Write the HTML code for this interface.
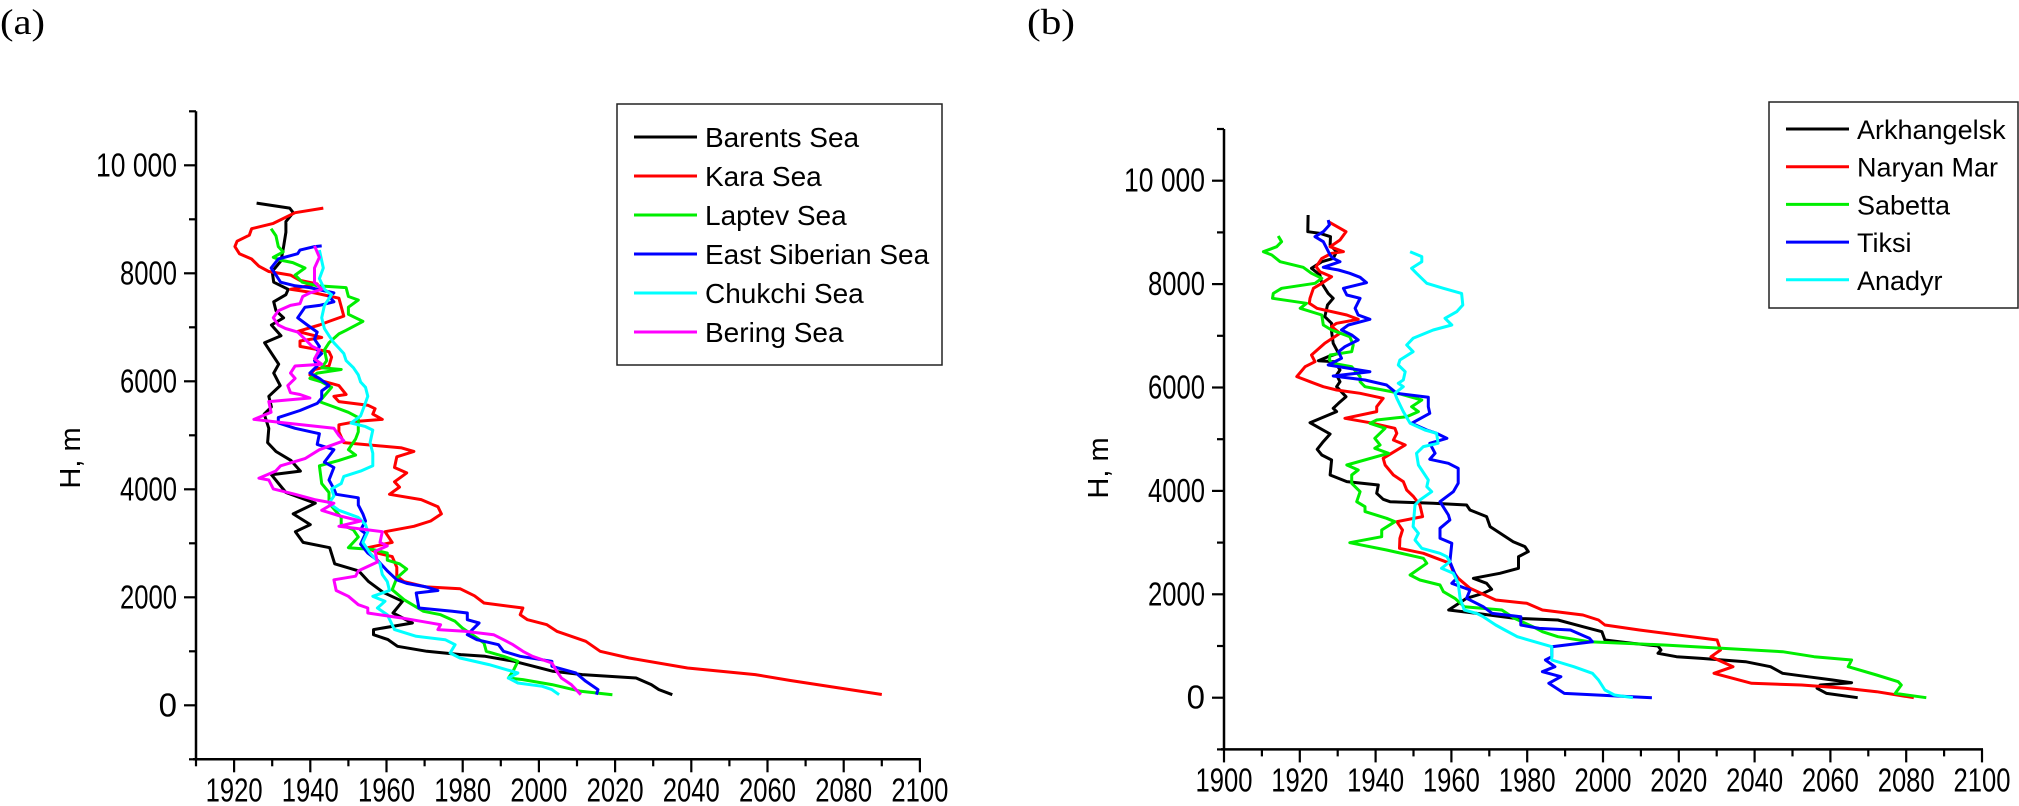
<!DOCTYPE html>
<html><head><meta charset="utf-8">
<style>
html,body{margin:0;padding:0;background:#fff;}
svg{display:block;}
text{font-family:"Liberation Sans",Arial,sans-serif;fill:#000;}
</style></head>
<body>
<svg id="fig" width="2019" height="806" viewBox="0 0 2019 806" xmlns="http://www.w3.org/2000/svg">
<text x="0" y="34" font-size="36" textLength="45" lengthAdjust="spacingAndGlyphs" style="font-family:'Liberation Serif',serif">(a)</text>
<text x="1027" y="34" font-size="36" textLength="48" lengthAdjust="spacingAndGlyphs" style="font-family:'Liberation Serif',serif">(b)</text>
<g id="chartA"></g>
<g id="chartB"></g>
</svg>
<script>
// ---------- Chart (a) data ----------
const seriesNamesA = ["Barents Sea","Kara Sea","Laptev Sea","East Siberian Sea","Chukchi Sea","Bering Sea"];
const seriesColorsA = ["#000000","#ff0000","#00ee00","#0000ff","#00ffff","#ff00ff"];
const barentsYears = [1925.9,1934.6,1935.5,1933.6,1933.6,1933.0,1932.3,1930.0,1930.4,1934.2,1933.6,1930.4,1931.0,1933.0,1929.8,1932.3,1928.0,1931.7,1930.4,1932.1,1929.1,1929.8,1927.9,1929.1,1928.8,1931.0,1934.9,1937.4,1929.8,1933.6,1941.3,1935.5,1940.0,1936.1,1938.1,1945.1,1946.4,1952.7,1955.3,1959.1,1964.2,1961.7,1966.8,1956.6,1956.6,1960.4,1962.9,1970.6,1979.5,1985.9,1993.5,1998.6,2003.7,2011.4,2025.5,2029.5,2031.5,2035.0];
const barentsH = [9300,9208,9122,8957,8759,8495,8231,8033,7835,7703,7604,7472,7307,7175,7043,6845,6713,6317,6152,5921,5723,5525,5393,5129,4865,4700,4535,4337,4271,3941,3743,3545,3347,3215,3017,2918,2621,2489,2291,2093,1925,1709,1524,1401,1308,1216,1092,1000,938,907,814,722,629,568,506,383,290,197];
const karaYears = [1943.4,1936.0,1930.3,1924.6,1924.0,1920.8,1920.2,1921.4,1924.6,1926.5,1929.1,1934.8,1937.3,1941.8,1934.8,1941.1,1947.5,1948.8,1944.9,1942.4,1936.7,1943.0,1937.3,1937.3,1944.9,1945.6,1944.9,1941.1,1939.9,1942.4,1947.5,1949.4,1946.2,1947.5,1955.1,1957.0,1956.4,1958.9,1952.6,1947.5,1947.5,1948.8,1964.0,1967.2,1962.7,1962.1,1965.3,1962.1,1963.4,1960.8,1969.1,1973.5,1974.4,1971.6,1967.2,1959.6,1961.5,1955.1,1957.6,1961.5,1962.7,1962.7,1964.6,1970.4,1979.3,1983.1,1985.6,1995.8,1995.1,1997.0,2002.1,2004.7,2012.3,2016.1,2023.7,2039.0,2056.8,2066,2078,2090];
const karaH = [9208,9122,8924,8825,8706,8594,8495,8363,8264,8132,8033,7967,7868,7802,7703,7637,7538,7208,7109,7043,6924,6812,6746,6647,6548,6449,6284,6218,6119,6020,5921,5756,5723,5624,5558,5492,5393,5294,5261,5195,5063,4865,4766,4700,4601,4403,4304,4139,4040,3908,3809,3677,3545,3413,3314,3215,3017,2918,2819,2753,2555,2390,2291,2192,2159,2027,1894,1802,1678,1586,1493,1370,1185,1000,876,691,568,460,330,200];
const laptevYears = [1929.7,1931.0,1931.6,1932.9,1930.3,1932.2,1935.4,1938.6,1936.0,1937.9,1941.8,1949.4,1950.0,1952.6,1950.0,1950.0,1953.8,1949.4,1947.5,1944.9,1943.7,1944.3,1943.0,1948.1,1941.8,1939.9,1943.0,1945.6,1942.4,1946.2,1950.0,1952.6,1952.6,1951.9,1950.0,1951.9,1947.5,1942.4,1943.0,1944.9,1944.9,1948.1,1948.1,1951.3,1952.6,1950.0,1956.4,1960.2,1960.2,1963.4,1965.3,1962.7,1961.5,1964.6,1969.7,1974.2,1978.0,1979.9,1983.1,1985.6,1986.2,1990.7,1994.5,1993.2,1992.0,1995.8,2003.4,2011.0,2019.3];
const laptevH = [8825,8693,8495,8396,8297,8244,8198,8099,7967,7835,7769,7736,7571,7505,7373,7241,7109,6944,6878,6713,6581,6383,6251,6218,6152,6053,5987,5888,5624,5525,5426,5327,5063,4931,4733,4634,4535,4436,4106,3941,3743,3479,3347,3248,3116,2918,2885,2819,2687,2621,2522,2357,2141,1956,1740,1678,1555,1431,1277,1154,1000,907,814,629,506,475,383,259,197];
const eastSibYears = [1943.0,1941.1,1937.3,1936.7,1931.6,1929.7,1931.0,1932.2,1936.0,1939.9,1946.2,1944.9,1946.2,1942.4,1938.6,1936.7,1939.2,1941.8,1941.1,1942.4,1941.8,1943.0,1941.1,1941.8,1939.9,1942.4,1944.9,1943.0,1943.0,1941.8,1937.3,1931.6,1931.6,1936.0,1942.4,1941.8,1946.2,1943.7,1946.2,1944.9,1946.2,1946.8,1952.6,1952.6,1953.8,1954.5,1953.2,1954.5,1953.2,1955.1,1957.6,1960.2,1962.7,1965.3,1970.4,1973.5,1967.8,1968.5,1977.3,1981.2,1981.2,1984.3,1981.2,1983.7,1989.4,1990.7,1995.1,2003.4,2003.4,2009.7,2012.3,2015.5,2015.1];
const eastSibH = [8508,8495,8429,8363,8264,8099,7967,7835,7769,7736,7637,7571,7472,7406,7373,7175,7043,6911,6779,6647,6581,6515,6383,6284,6152,6053,5921,5822,5690,5591,5459,5327,5228,5129,5030,4832,4733,4502,4403,4172,4007,3908,3842,3710,3545,3413,3248,3182,2984,2819,2687,2489,2324,2258,2192,2126,2079,1802,1740,1709,1586,1524,1308,1215,1123,1000,907,814,722,598,444,290,197];
const chukchiYears = [1942.4,1943.4,1942.4,1943.7,1945.6,1943.7,1943.0,1943.7,1944.9,1946.2,1947.5,1948.8,1949.4,1951.3,1952.6,1953.2,1954.5,1955.1,1954.1,1953.2,1950.7,1954.5,1956.4,1955.7,1956.4,1956.4,1953.2,1948.8,1948.1,1945.6,1946.2,1944.9,1947.5,1952.6,1954.5,1955.1,1953.8,1955.7,1958.3,1958.9,1960.2,1960.8,1956.4,1959.6,1957.6,1960.2,1962.1,1967.8,1975.4,1978.0,1976.7,1979.3,1986.9,1994.5,1992.0,1994.5,2000.9,2003.4,2005.3];
const chukchiH = [8429,8099,7901,7703,7604,7406,7175,6977,6845,6713,6614,6515,6383,6251,6119,5987,5888,5723,5525,5360,5228,5162,5096,4865,4667,4436,4337,4238,4106,4007,3875,3743,3611,3479,3347,3215,3017,2819,2621,2423,2291,2126,2018,1925,1802,1678,1401,1277,1215,1123,969,876,753,598,506,413,352,290,197];
const beringYears = [1941.1,1942.4,1941.1,1941.1,1943.0,1939.9,1938.0,1937.3,1934.8,1931.6,1930.3,1931.6,1933.5,1936.7,1938.6,1940.5,1942.4,1941.1,1943.0,1936.0,1934.8,1936.0,1934.1,1934.8,1937.3,1939.9,1929.1,1929.7,1925.2,1933.5,1946.2,1947.5,1948.8,1944.9,1942.4,1938.6,1932.2,1930.9,1926.5,1929.1,1930.3,1936.0,1941.1,1946.2,1943.0,1947.5,1953.2,1947.5,1958.9,1958.3,1960.2,1957.0,1957.6,1952.6,1951.9,1946.2,1946.8,1950.0,1952.6,1955.1,1955.1,1964.0,1969.1,1974.2,1973.5,1980.5,1988.1,1990.7,1993.2,1995.8,1998.3,2003.4,2004.7,2005.9,2008.5,2011.0];
const beringH = [8508,8297,8099,7835,7703,7637,7571,7439,7406,7307,7175,7043,6977,6911,6779,6647,6581,6416,6317,6284,6152,6053,5921,5789,5756,5690,5624,5426,5294,5228,5129,4997,4898,4799,4733,4568,4436,4337,4205,4172,4007,3908,3809,3743,3611,3512,3413,3314,3215,3017,2951,2852,2654,2489,2390,2324,2126,2018,1863,1802,1709,1617,1555,1493,1401,1370,1308,1215,1123,1000,907,784,629,506,383,197];
const xTicksA = [1920,1940,1960,1980,2000,2020,2040,2060,2080,2100];
const yTicksA = [0,2000,4000,6000,8000,10000];
const yTickLabelsA = ["0","2000","4000","6000","8000","10 000"];

// ---------- Chart (b) data ----------
const seriesNamesB = ["Arkhangelsk","Naryan Mar","Sabetta","Tiksi","Anadyr"];
const seriesColorsB = ["#000000","#ff0000","#00ee00","#0000ff","#00ffff"];
const arkhYears = [1922.2,1922.1,1925.3,1928.1,1928.0,1929.7,1928.8,1925.8,1923.1,1925.3,1925.8,1927.5,1928.8,1927.3,1926.6,1928.4,1928.4,1928.8,1930.2,1927.5,1924.9,1929.3,1930.6,1929.7,1930.6,1929.7,1932.2,1930.2,1928.8,1929.7,1922.7,1928.0,1926.2,1924.6,1925.8,1928.4,1928.0,1932.4,1940.7,1940.3,1942.0,1943.8,1955.2,1964.0,1964.9,1969.3,1970.2,1976.3,1979.4,1980.3,1977.7,1977.7,1972.8,1965.8,1969.3,1970.6,1968.4,1964.0,1959.3,1966.7,1976.6,1988.1,1994.7,1999.7,2000.5,2007.9,2014.5,2015.3,2014.5,2019.4,2026.0,2037.6,2044.2,2047.4,2054.0,2060.6,2065.6,2057.3,2056.5,2059.0,2067.2];
const arkhH = [9336,9014,8982,8917,8756,8627,8498,8434,8305,8176,8015,7821,7725,7596,7370,7241,7080,6854,6661,6597,6519,6500,6339,6242,6113,6016,5823,5694,5597,5533,5320,5101,4953,4804,4695,4598,4308,4179,4114,3953,3837,3792,3760,3728,3631,3502,3309,3018,2922,2825,2728,2503,2406,2309,2213,2097,2019,1923,1696,1631,1535,1502,1374,1277,1116,1051,1000,922,858,793,761,697,600,471,407,342,291,245,181,84,0];
const naryanYears = [1927.5,1932.2,1930.6,1928.0,1931.5,1928.4,1925.8,1924.3,1925.3,1928.4,1925.8,1923.6,1922.7,1922.5,1924.5,1932.4,1935.4,1929.7,1928.4,1930.6,1926.6,1923.1,1924.0,1921.4,1919.2,1922.7,1926.2,1929.7,1935.9,1942.0,1940.3,1940.3,1931.9,1938.5,1945.1,1945.6,1944.7,1947.8,1944.2,1942.0,1942.5,1944.7,1947.3,1948.2,1950.0,1951.7,1952.4,1945.6,1947.1,1946.4,1946.3,1952.6,1956.1,1959.6,1960.5,1961.8,1964.9,1971.7,1979.9,1984.0,1994.7,1998.8,2000.5,2009.6,2030.1,2031.0,2028.5,2034.3,2029.3,2039.2,2052.4,2063.9,2072.2,2082.0];
const naryanH = [9208,9014,8853,8724,8627,8595,8498,8337,8240,8144,8015,7918,7725,7628,7531,7402,7319,7241,7177,7048,6854,6629,6500,6403,6210,6113,6016,5952,5887,5791,5629,5533,5404,5320,5210,5114,4985,4888,4727,4630,4501,4308,4179,4018,3889,3728,3502,3405,3244,3083,2889,2793,2696,2599,2438,2309,2116,1889,1825,1696,1599,1502,1406,1309,1116,922,793,600,471,278,245,181,116,0];
const sabettaYears = [1914.3,1915.2,1913.9,1910.4,1912.6,1914.8,1920.9,1923.1,1925.8,1924.0,1915.2,1913.0,1912.8,1921.8,1920.1,1925.8,1926.2,1928.4,1933.2,1934.1,1933.7,1928.0,1927.8,1928.8,1933.7,1935.9,1935.9,1937.2,1944.2,1952.2,1949.5,1951.3,1948.2,1940.3,1938.5,1942.5,1939.8,1941.2,1939.8,1943.4,1932.4,1935.4,1933.7,1933.7,1935.9,1935.0,1937.2,1937.2,1942.9,1945.1,1941.6,1941.6,1933.2,1942.9,1952.6,1953.5,1949.1,1951.7,1957.0,1957.9,1960.9,1963.4,1973.3,1976.6,1981.5,1984.0,1988.1,1996.4,2016.1,2047.4,2055.7,2065.6,2064.7,2072.2,2077.9,2078.7,2077.1,2085.3];
const sabettaH = [8930,8821,8724,8627,8563,8434,8324,8208,8112,8015,7918,7821,7725,7628,7531,7402,7209,7112,6983,6822,6693,6629,6532,6468,6403,6210,6113,6016,5920,5758,5629,5533,5436,5372,5307,5210,5017,4888,4824,4727,4501,4405,4308,4147,3985,3792,3695,3599,3470,3405,3244,3115,2999,2857,2696,2599,2374,2277,2180,2051,1923,1760,1696,1535,1374,1277,1180,1083,1019,890,793,729,600,439,310,245,84,0];
const tiksiYears = [1927.5,1927.8,1926.2,1924.0,1926.2,1927.1,1928.0,1928.8,1930.6,1926.2,1930.2,1933.2,1935.9,1937.6,1931.5,1932.4,1935.9,1934.6,1935.4,1938.5,1932.8,1931.0,1933.7,1935.4,1931.9,1930.2,1931.0,1927.5,1938.5,1928.8,1937.2,1942.9,1945.6,1953.9,1953.9,1954.3,1949.5,1953.5,1956.1,1958.8,1954.3,1955.7,1954.3,1959.2,1961.8,1961.8,1960.5,1957.0,1959.2,1959.6,1957.0,1957.0,1960.1,1959.6,1960.5,1961.4,1960.1,1964.9,1964.0,1968.4,1970.8,1978.3,1978.3,1983.2,1991.4,1996.4,1997.2,1986.5,1986.5,1984.8,1987.3,1984.0,1988.9,1985.7,1989.8,2012.9];
const tiksiH = [9240,9143,9014,8917,8821,8692,8563,8498,8434,8324,8273,8208,8131,8028,7918,7789,7725,7531,7402,7319,7209,7112,7016,6919,6790,6693,6564,6435,6306,6223,6145,6048,5887,5810,5629,5501,5307,5178,5114,5017,4920,4727,4611,4533,4437,4147,3985,3792,3534,3438,3276,3083,2986,2631,2470,2309,2212,2083,1923,1760,1631,1567,1406,1341,1309,1148,1083,987,793,729,600,503,407,278,84,0];
const anadyrYears = [1949.1,1952.2,1952.2,1949.5,1950.8,1953.5,1957.9,1962.7,1963.0,1961.4,1958.3,1960.1,1955.2,1949.9,1948.2,1949.9,1946.4,1946.0,1947.8,1947.3,1946.0,1947.3,1945.1,1945.6,1947.3,1949.1,1953.0,1956.1,1956.5,1952.6,1950.8,1951.3,1953.9,1953.5,1954.8,1951.7,1950.4,1949.9,1951.3,1950.4,1952.2,1957.0,1958.8,1959.6,1957.4,1960.5,1961.8,1962.3,1963.4,1966.7,1968.4,1971.7,1974.1,1977.4,1986.5,1986.5,1992.3,1997.2,1998.8,2000.5,2003.0,2007.9];
const anadyrH = [8627,8531,8434,8305,8208,8015,7918,7821,7596,7467,7338,7209,7112,6951,6822,6693,6532,6435,6306,6145,6081,6016,5887,5791,5533,5307,5178,5114,4920,4856,4727,4501,4211,4082,3985,3824,3728,3309,3180,3051,2889,2793,2728,2631,2503,2406,2212,1923,1696,1631,1567,1406,1309,1180,987,729,600,471,342,149,52,0];
const xTicksB = [1900,1920,1940,1960,1980,2000,2020,2040,2060,2080,2100];
const yTicksB = [0,2000,4000,6000,8000,10000];
const yTickLabelsB = ["0","2000","4000","6000","8000","10 000"];

const NS = "http://www.w3.org/2000/svg";
function mk(parent, tag, attrs) {
  const e = document.createElementNS(NS, tag);
  for (const k in attrs) e.setAttribute(k, attrs[k]);
  parent.appendChild(e);
  return e;
}

function drawChart(cfg) {
  const g = document.getElementById(cfg.id);
  const xs = v => cfg.x0 + (v - cfg.xmin) * cfg.pxPerYear;
  const ys = v => cfg.y0 - v * cfg.pxPerH;
  const left = xs(cfg.xmin), right = xs(cfg.xmax);
  const top = ys(11000), bottom = ys(-1000);

  cfg.series.forEach((s, i) => {
    const pts = s.years.map((yr, j) => xs(yr).toFixed(1) + "," + ys(s.h[j]).toFixed(1)).join(" ");
    const pl = mk(g, "polyline", {points: pts, fill: "none", stroke: s.color, "stroke-width": 3, "stroke-linejoin": "round"});
    
    
  });

  const yAx = mk(g, "line", {x1: left, y1: top, x2: left, y2: bottom + 1, stroke: "#000", "stroke-width": 2.5});
  
  
  const xAx = mk(g, "line", {x1: left - 3, y1: bottom, x2: right + 1, y2: bottom, stroke: "#000", "stroke-width": 2.5});
  
  

  for (let v = -1000; v <= 11000; v += 1000) {
    const major = (v % 2000 === 0);
    const t = mk(g, "line", {x1: left - (major ? 12 : 7), y1: ys(v), x2: left, y2: ys(v), stroke: "#000", "stroke-width": 2.2});
    
    
  }
  cfg.yTicks.forEach((v, i) => {
    const lab = cfg.yLabels[i];
    const tx = mk(g, "text", {x: left - 19, y: ys(v) + 11, "font-size": 33, "text-anchor": "end"});
    if (lab.length >= 4) { tx.setAttribute("textLength", lab.length === 4 ? 57 : 81); tx.setAttribute("lengthAdjust", "spacingAndGlyphs"); }
    tx.textContent = lab;
    
    
  });

  for (let v = cfg.xmin; v <= cfg.xmax; v += 10) {
    const major = ((v - 1900) % 20 === 0);
    const t = mk(g, "line", {x1: xs(v), y1: bottom, x2: xs(v), y2: bottom + (major ? 13 : 7), stroke: "#000", "stroke-width": 2.2});
    
    
  }
  cfg.xTicks.forEach(v => {
    const tx = mk(g, "text", {x: xs(v), y: bottom + 42, "font-size": 33, "text-anchor": "middle", textLength: 57, lengthAdjust: "spacingAndGlyphs"});
    tx.textContent = String(v);
    
    
  });

  const yt = mk(g, "text", {x: 0, y: 0, "font-size": 29, "text-anchor": "middle", transform: "translate(" + (left - 116) + "," + cfg.yTitleY + ") rotate(-90)"});
  yt.textContent = "H, m";
  
  

  const L = cfg.legend;
  const box = mk(g, "rect", {x: L.x, y: L.y, width: L.w, height: L.h, fill: "#fff", stroke: "#222", "stroke-width": 1.5});
  
  
  cfg.series.forEach((s, i) => {
    const cy = L.y + L.first + i * L.step;
    const ln = mk(g, "line", {x1: L.x + 17, y1: cy, x2: L.x + 80, y2: cy, stroke: s.color, "stroke-width": 3});
    
    
    const tx = mk(g, "text", {x: L.x + 88, y: cy + 10, "font-size": L.fs});
    tx.textContent = s.name;
    
    
  });
}

drawChart({
  id: "chartA", x0: 196, xmin: 1910, xmax: 2100, pxPerYear: 3.81, y0: 705.3, pxPerH: 0.054,
  xTicks: xTicksA, yTicks: yTicksA, yLabels: yTickLabelsA, yTitleY: 458,
  legend: {x: 617, y: 104, w: 325, h: 261, first: 33, step: 39, fs: 28},
  series: [
    {name: seriesNamesA[0], color: seriesColorsA[0], years: barentsYears, h: barentsH},
    {name: seriesNamesA[1], color: seriesColorsA[1], years: karaYears, h: karaH},
    {name: seriesNamesA[2], color: seriesColorsA[2], years: laptevYears, h: laptevH},
    {name: seriesNamesA[3], color: seriesColorsA[3], years: eastSibYears, h: eastSibH},
    {name: seriesNamesA[4], color: seriesColorsA[4], years: chukchiYears, h: chukchiH},
    {name: seriesNamesA[5], color: seriesColorsA[5], years: beringYears, h: beringH}
  ]
});
drawChart({
  id: "chartB", x0: 1224, xmin: 1900, xmax: 2100, pxPerYear: 3.79, y0: 697.7, pxPerH: 0.0517,
  xTicks: xTicksB, yTicks: yTicksB, yLabels: yTickLabelsB, yTitleY: 468,
  legend: {x: 1769, y: 102, w: 249, h: 206, first: 27, step: 37.7, fs: 27},
  series: [
    {name: seriesNamesB[0], color: seriesColorsB[0], years: arkhYears, h: arkhH},
    {name: seriesNamesB[1], color: seriesColorsB[1], years: naryanYears, h: naryanH},
    {name: seriesNamesB[2], color: seriesColorsB[2], years: sabettaYears, h: sabettaH},
    {name: seriesNamesB[3], color: seriesColorsB[3], years: tiksiYears, h: tiksiH},
    {name: seriesNamesB[4], color: seriesColorsB[4], years: anadyrYears, h: anadyrH}
  ]
});
</script>
</body></html>
